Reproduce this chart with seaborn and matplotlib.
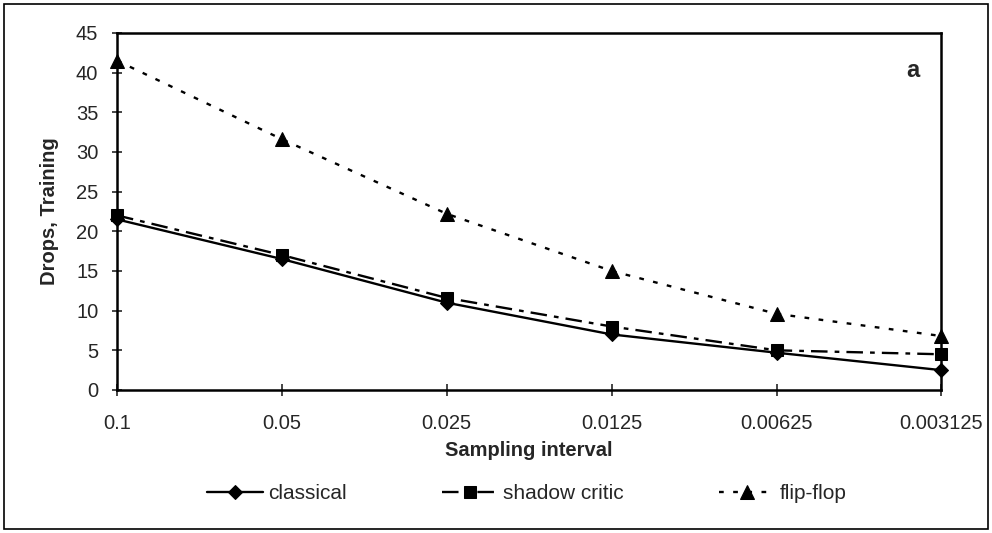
import matplotlib
matplotlib.use("Agg")
import matplotlib.pyplot as plt
import seaborn as sns
import numpy as np
import pandas as pd
from matplotlib.patches import Rectangle

categories = ["0.1", "0.05", "0.025", "0.0125", "0.00625", "0.003125"]
classical = [21.5, 16.5, 11.0, 7.0, 4.7, 2.5]
shadow_critic = [22.0, 17.0, 11.6, 8.0, 5.0, 4.5]
flip_flop = [41.5, 31.6, 22.2, 15.0, 9.6, 6.8]
y_ticks = [0, 5, 10, 15, 20, 25, 30, 35, 40, 45]

sns.set_style("white")
plt.rcParams['font.family'] = ['Liberation Sans', 'DejaVu Sans']

fs = 14.5
fig = plt.figure(figsize=(9.92, 5.33), dpi=100)
ax = fig.add_axes([0.118, 0.2683, 0.831, 0.670])

x = np.arange(len(categories))
series = [
    ("classical", classical, "D", "-", 7.5),
    ("shadow critic", shadow_critic, "s", (0, (7, 3, 2, 3)), 9),
    ("flip-flop", flip_flop, "^", (0, (2, 4)), 10),
]
for name, vals, mk, ls, ms in series:
    sns.lineplot(x=x, y=vals, ax=ax, color="black", marker=mk, markersize=ms,
                 markeredgecolor="black", linestyle=ls, linewidth=1.7,
                 label=name, clip_on=False, zorder=3)

ax.set_xlim(0, len(categories) - 1)
ax.set_ylim(0, 45)
ax.set_xticks(x)
ax.set_xticklabels(categories, fontsize=fs)
ax.set_yticks(y_ticks)
ax.set_yticklabels([str(t) for t in y_ticks], fontsize=fs)
ax.tick_params(axis="y", direction="inout", length=7, width=1.2, left=True, pad=10)
ax.tick_params(axis="x", direction="inout", length=8, width=1.2, bottom=True, pad=13)
for s in ax.spines.values():
    s.set_color("black")
    s.set_linewidth(1.8)

ax.set_xlabel("Sampling interval", fontsize=fs, fontweight="bold", labelpad=6)
ax.set_ylabel("Drops, Training", fontsize=fs, fontweight="bold", labelpad=12)
ax.text(0.965, 0.895, "a", transform=ax.transAxes, fontsize=17, fontweight="bold",
        ha="center", va="center")

ax.legend(loc="center", bbox_to_anchor=(0.497, -0.29), ncol=3, frameon=False,
          fontsize=15, handlelength=2.7, columnspacing=4.6, handletextpad=0.2)

fig.patches.append(Rectangle((0.004, 0.008), 0.992, 0.985, transform=fig.transFigure,
                             fill=False, edgecolor="black", linewidth=1.2))

fig.savefig("out.png", dpi=100)
